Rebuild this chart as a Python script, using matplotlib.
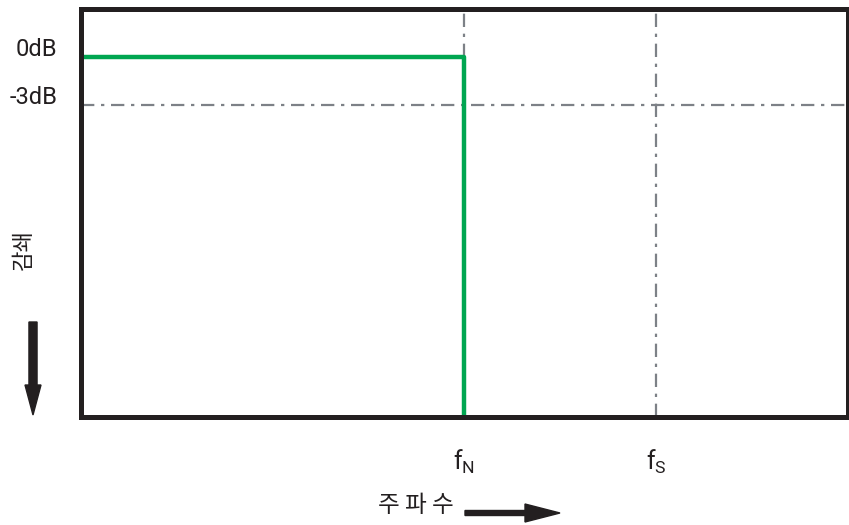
import matplotlib
matplotlib.use("Agg")
import matplotlib.pyplot as plt
from matplotlib.patches import FancyArrow
from matplotlib.transforms import ScaledTranslation

plt.rcParams['font.family'] = ['Roboto', 'Noto Sans CJK KR', 'DejaVu Sans']
plt.rcParams['mathtext.fontset'] = 'custom'
plt.rcParams['mathtext.rm'] = 'Roboto'
plt.rcParams['mathtext.it'] = 'Roboto'

# response: flat at 0 dB up to Nyquist, then drops straight down
freq = [0.0, 0.5, 0.5]
atten = [0.0, 0.0, -22.5]

level_ticks = [0, -3]
level_labels = ['0dB', '-3dB']
freq_ticks = [0.5, 0.75]
freq_labels = [r'$\mathregular{f_N}$', r'$\mathregular{f_S}$']

grey = '#7d8187'
dark = '#231f20'
kr = ['Noto Sans CJK KR', 'DejaVu Sans']


def main():
    fig = plt.figure(figsize=(8.49, 5.25), dpi=100)
    ax = fig.add_axes([0.0954, 0.2057, 0.9034, 0.7763])
    ax.set_xlim(0, 1)
    ax.set_ylim(-22.5, 3)

    ax.axhline(-3, color=grey, lw=1.6, ls=(0, (6, 3, 1.5, 3)), zorder=1)
    for f in freq_ticks:
        ax.axvline(f, color=grey, lw=1.6, ls=(0, (6, 3, 1.5, 3)), zorder=1)
    ax.plot(freq, atten, color='#00a651', lw=3.2, zorder=2, solid_capstyle='butt')

    for s in ax.spines.values():
        s.set_linewidth(3.6)
        s.set_color(dark)

    ax.set_yticks(level_ticks)
    ax.set_yticklabels(level_labels, fontsize=17, color=dark)
    ax.set_xticks(freq_ticks)
    ax.set_xticklabels(freq_labels, fontsize=18, color=dark)
    ax.tick_params(axis='y', length=0, pad=17)
    ax.tick_params(axis='x', length=0, pad=22)
    shift = ScaledTranslation(0, 0.10, fig.dpi_scale_trans)
    for lab in ax.get_yticklabels():
        lab.set_transform(lab.get_transform() + shift)

    fig.text(0.028, 0.524, '감쇄', rotation=90, ha='center', va='center',
             fontsize=16, family=kr, color=dark, fontweight='light')
    fig.text(0.490, 0.038, '주 파 수', ha='center', va='center',
             fontsize=17, family=kr, color=dark, fontweight='light')

    # arrows drawn in figure coordinates
    fig.patches.append(FancyArrow(
        33 / 849, 1 - 322 / 525, 0, -(93 - 30) / 525, width=5 / 525,
        head_width=16 / 849, head_length=30 / 525, length_includes_head=False,
        color=dark, transform=fig.transFigure))
    fig.patches.append(FancyArrow(
        465 / 849, 1 - 513 / 525, 60 / 849, 0, width=5 / 525,
        head_width=18 / 525, head_length=35 / 849, length_includes_head=False,
        color=dark, transform=fig.transFigure))

    fig.savefig('out.png', dpi=100)


if __name__ == "__main__":
    main()
